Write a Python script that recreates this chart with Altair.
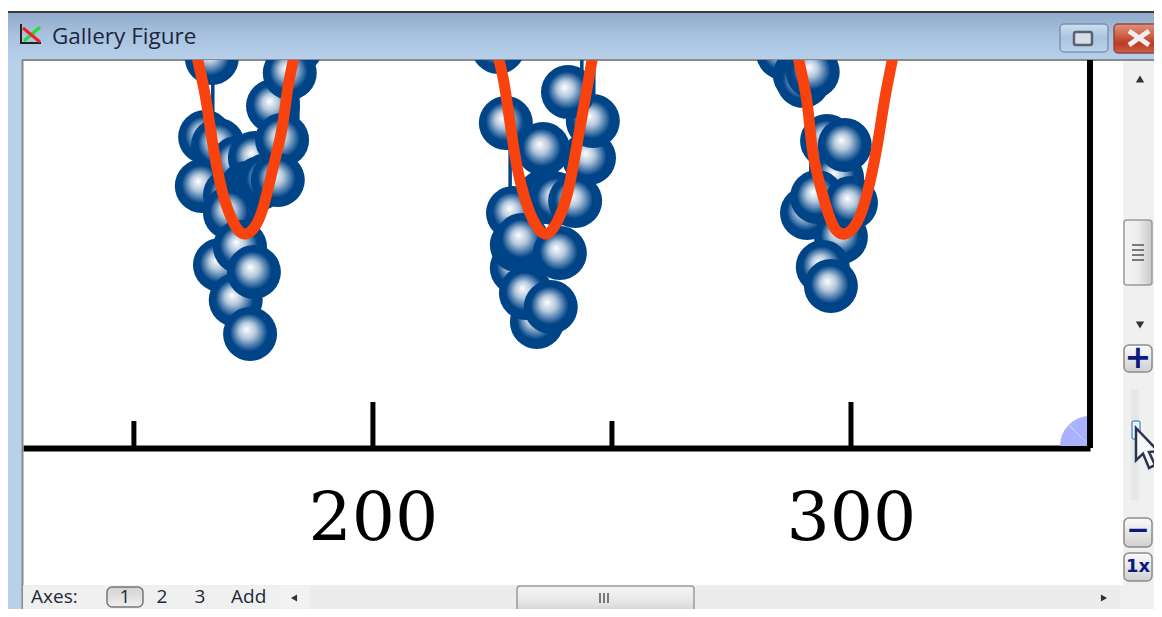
import altair as alt
import pandas as pd

# ---- data ----------------------------------------------------------------
ball_x = [166.3, 183.9, 179.1, 182.6, 164.9, 167.6, 164.2, 170.1, 171.5, 175.3, 181.0,
          173.6, 174.9, 176.4, 177.8, 180.1, 170.1, 168.0, 172.2, 171.3, 175.1, 174.3,
          226.2, 245.2, 246.0, 240.8, 227.8, 235.6, 237.0, 238.5, 242.3, 235.6, 229.3,
          230.1, 230.1, 231.2, 239.1, 234.3, 232.0, 237.2,
          285.8, 289.3, 290.0, 292.0, 295.0, 297.1, 298.7, 290.8, 292.9, 297.9, 300.0,
          294.1, 295.8]
ball_y = [390, 401, 342, 375, 311, 303, 262, 253, 285, 290, 308,
          260, 261, 265, 268, 268, 235, 183, 201, 148, 176, 114,
          401, 290, 327, 356, 325, 251, 251, 249, 247, 299, 235,
          180, 203, 208, 195, 126, 155, 141,
          395, 373, 367, 376, 307, 270, 303, 235, 251, 211, 245,
          181, 162]
stem_x = [166.5, 184.3, 228.7, 246.2, 243.7, 291.6]
stem_hi = [388, 350, 300, 388, 388, 350]
stem_lo = [328, 310, 258, 340, 375, 270]
curve_a_x = [162.6, 163.4, 164.9, 166.3, 168.0, 169.7, 171.5, 173.2, 175.1, 177.0, 179.1, 181.0, 182.2, 183.3, 183.9]
curve_a_y = [408, 387, 353, 310, 266, 238, 220, 214, 220, 240, 280, 320, 360, 387, 408]
curve_b_x = [225.5, 226.4, 227.6, 229.7, 231.4, 233.3, 236.0, 238.5, 240.6, 242.3, 243.9, 245.8, 246.4]
curve_b_y = [408, 387, 360, 293, 256, 230, 214, 226, 253, 293, 336, 387, 408]
curve_c_x = [288.3, 289.1, 290.8, 292.0, 294.1, 296.2, 298.7, 301.3, 303.3, 305.4, 307.1, 308.6, 309.2]
curve_c_y = [408, 387, 346, 296, 253, 223, 214, 226, 253, 300, 350, 387, 408]
major_ticks = [200, 300]
minor_ticks = [150, 250]
major_len = [46, 46]
minor_len = [27, 27]
spine_x = [350]
spine_top = [388]
title_text = "Gallery Figure"
status_labels = ["Axes:", "1", "2", "3", "Add"]

NAVY = "#004488"
ORANGE = "#F9430F"
X_DOMAIN = [126.8, 350]
Y_DOMAIN = [0, 388]
xs = alt.Scale(domain=X_DOMAIN, nice=False, zero=False)
ys = alt.Scale(domain=Y_DOMAIN, nice=False, zero=False)


# ---- window chrome helpers (page pixels -> view pixels) -------------------
def vx(v):
    return alt.value(v - 23)


def vy(v):
    return alt.value(v - 60)


def grad(stops, vertical=True):
    n = len(stops) - 1
    return alt.LinearGradient(
        gradient="linear",
        stops=[alt.GradientStop(color=c, offset=i / n) for i, c in enumerate(stops)],
        x1=0, y1=0, x2=0 if vertical else 1, y2=1 if vertical else 0,
    )


def box(x0, x1, y0, y1, fill, stroke=None, sw=1, r=0):
    kw = dict(fill=fill)
    if stroke:
        kw.update(stroke=stroke, strokeWidth=sw)
    if r:
        kw.update(cornerRadius=r)
    return alt.Chart().mark_rect(**kw).encode(x=vx(x0), x2=vx(x1), y=vy(y0), y2=vy(y1))


def seg(x0, y0, x1, y1, color, w):
    return alt.Chart().mark_rule(color=color, strokeWidth=w).encode(
        x=vx(x0), y=vy(y0), x2=vx(x1), y2=vy(y1))


def label(x, y, s, size=19, font="Open Sans", color="#222838", weight="normal", align="left"):
    return alt.Chart().mark_text(
        font=font, fontSize=size, color=color, fontWeight=weight, align=align, baseline="middle"
    ).encode(x=vx(x), y=vy(y), text=alt.value(s))


def glyph(x, y, shape, size, color="#333333"):
    return alt.Chart().mark_point(shape=shape, size=size, filled=True, fill=color, opacity=1, strokeWidth=0).encode(
        x=vx(x), y=vy(y))


BTN = grad(["#FBFBFB", "#E6E6E6", "#D0D0D0"])
chrome = [
    box(8, 1162, 12, 60, grad(["#8FA9CA", "#A9C3E0", "#B7CFEA"])),
    seg(8, 12, 1162, 12, "#3A3A3A", 2),
    box(8, 22, 60, 617, "#B8D0EA"),
    seg(22.5, 60, 22.5, 617, "#8A8A8A", 2),
    seg(22, 60, 1157, 60, "#8A8A8A", 2),
    box(1123, 1155, 61, 585, "#F0F0F0"),
    box(23, 1155, 585, 617, "#F0F0F0"),
    # scrollbar, vertical
    box(1124, 1152, 220, 285, grad(["#F4F4F4", "#EDEDED", "#C8C8C8"], vertical=False), "#9A9A9A", 1.5, 3),
    seg(1132, 245, 1144, 245, "#555555", 1.5),
    seg(1132, 250, 1144, 250, "#555555", 1.5),
    seg(1132, 255, 1144, 255, "#555555", 1.5),
    seg(1132, 260, 1144, 260, "#555555", 1.5),
    glyph(1140, 79, "triangle-up", 70),
    glyph(1140, 325, "triangle-down", 70),
    # zoom buttons and slider
    box(1124, 1152, 345, 372, BTN, "#8C8C8C", 1.5, 5),
    label(1138, 358, "+", 32, "DejaVu Sans", "#0A1A80", "bold", "center"),
    box(1131, 1139, 389, 500, "#E4E8E8"),
    box(1132, 1140, 421, 439, "#EEF4FB", "#5A9BD0", 1.5, 2),
    box(1124, 1152, 518, 547, BTN, "#8C8C8C", 1.5, 5),
    label(1138, 531, "\u2212", 28, "DejaVu Sans", "#0A1A80", "bold", "center"),
    box(1124, 1152, 553, 581, BTN, "#8C8C8C", 1.5, 5),
    label(1138, 567, "1x", 18, "DejaVu Sans", "#0A1A80", "bold", "center"),
    # window buttons
    box(1060, 1108, 24, 52, grad(["#CFE0F2", "#A9C3E0", "#BBD2EA"]), "#7E93AE", 1.5, 4),
    box(1074, 1092, 32, 45, "#D8DEE6", "#59616E", 2.5, 2),
    box(1114, 1164, 24, 53, grad(["#E0907E", "#D06A50", "#BD3A22", "#CC6046"]), "#8E4A48", 1.5, 4),
    seg(1129, 31, 1149, 45, "#F0EEEE", 5),
    seg(1149, 31, 1129, 45, "#F0EEEE", 5),
    # title and icon
    seg(21, 24, 21, 44, "#222222", 2),
    seg(20, 43, 41, 43, "#222222", 2),
    seg(24, 41, 40, 27, "#22DD33", 3),
    seg(23, 28, 40, 42, "#EE2222", 3),
    label(52, 37, title_text, 22.5, "Open Sans", "#20263C"),
    # status bar
    box(107, 143, 587, 607, grad(["#D2D2D2", "#EFEFEF"]), "#777777", 1.5, 5),
    label(31, 597, status_labels[0]),
    label(125, 597, status_labels[1], align="center"),
    label(162, 597, status_labels[2], align="center"),
    label(200, 597, status_labels[3], align="center"),
    label(231, 597, status_labels[4]),
    box(279, 1120, 586, 616, "#ECECEC"),
    box(279, 310, 586, 616, "#F2F2F2"),
    glyph(294, 598, "triangle-left", 50),
    glyph(1104, 598, "triangle-right", 50),
    box(517, 694, 586, 615, grad(["#F6F6F6", "#E8E8E8", "#CCCCCC"]), "#9A9A9A", 1.5, 3),
    seg(600, 593, 600, 603, "#555555", 1.5),
    seg(604, 593, 604, 603, "#555555", 1.5),
    seg(608, 593, 608, 603, "#555555", 1.5),
]

# ---- plot ------------------------------------------------------------------
balls = pd.DataFrame({"x": ball_x, "y": ball_y, "o": range(len(ball_x))})
stems = pd.DataFrame({"x": stem_x, "y": stem_hi, "y2": stem_lo})
curves = pd.concat([
    pd.DataFrame({"x": curve_a_x, "y": curve_a_y, "s": "a"}),
    pd.DataFrame({"x": curve_b_x, "y": curve_b_y, "s": "b"}),
    pd.DataFrame({"x": curve_c_x, "y": curve_c_y, "s": "c"}),
])
ticks = pd.DataFrame({"x": major_ticks + minor_ticks, "y": major_len + minor_len})
spine = pd.DataFrame({"x": spine_x, "y": spine_top})
corner = pd.DataFrame({"x": spine_x, "y": [2]})

axis_layer = alt.Chart(ticks).mark_rule(color="black", strokeWidth=5).encode(
    x=alt.X("x:Q", scale=xs, axis=alt.Axis(
        values=major_ticks, format="d", title=None, grid=False, ticks=False,
        domainColor="black", domainWidth=6, labelColor="black",
        labelFont="DejaVu Serif", labelFontSize=68, labelPadding=37,
        labelOverlap=False, labelFlush=False)),
    y=alt.Y("y:Q", scale=ys, axis=None),
    y2=alt.Y2(datum=0),
)
stem_layer = alt.Chart(stems).mark_rule(color=NAVY, strokeWidth=3.5, clip=True).encode(
    x=alt.X("x:Q", scale=xs), y=alt.Y("y:Q", scale=ys), y2="y2:Q")
ball_fill = alt.RadialGradient(
    gradient="radial", x1=0.43, y1=0.41, r1=0, x2=0.5, y2=0.5, r2=0.5,
    stops=[alt.GradientStop(color="#FFFFFF", offset=0),
           alt.GradientStop(color="#B4C8DC", offset=0.3),
           alt.GradientStop(color=NAVY, offset=0.7),
           alt.GradientStop(color=NAVY, offset=1)])
ball_layer = alt.Chart(balls).mark_circle(size=2916, opacity=1, fill=ball_fill, clip=True).encode(
    x=alt.X("x:Q", scale=xs), y=alt.Y("y:Q", scale=ys), order="o:Q")
curve_layer = alt.Chart(curves).mark_line(
    color=ORANGE, strokeWidth=11, interpolate="natural", clip=True, strokeCap="round"
).encode(x=alt.X("x:Q", scale=xs), y=alt.Y("y:Q", scale=ys), detail="s:N", order=alt.Order("x:Q"))
arc_a = alt.Chart(corner).mark_arc(color="#AAB2FF", radius=30, theta=4.712, theta2=5.49).encode(
    x=alt.X("x:Q", scale=xs), y=alt.Y("y:Q", scale=ys))
arc_b = alt.Chart(corner).mark_arc(color="#AAB2FF", radius=30, theta=5.50, theta2=6.283).encode(
    x=alt.X("x:Q", scale=xs), y=alt.Y("y:Q", scale=ys))
spine_layer = alt.Chart(spine).mark_rule(color="black", strokeWidth=6).encode(
    x=alt.X("x:Q", scale=xs), y=alt.Y("y:Q", scale=ys), y2=alt.Y2(datum=0))

cursor = alt.Chart().mark_point(
    shape="M-0.45,-1 L-0.45,0.62 L-0.1,0.28 L0.2,1 L0.5,0.85 L0.2,0.2 L0.65,0.15 Z",
    size=1600, filled=True, fill="#F6F8FA", stroke="#2C3550", strokeWidth=2.5, opacity=1,
).encode(x=vx(1145), y=vy(448))

chart = alt.layer(
    *chrome, axis_layer, stem_layer, ball_layer, curve_layer, arc_a, arc_b, spine_layer, cursor
).properties(
    width=1067, height=388,
    padding={"left": 15, "top": 52, "right": 64, "bottom": 161},
    autosize=alt.AutoSizeParams(type="none"),
    background="white",
).configure_view(stroke=None)

chart.save("out.html", embed_options={"renderer": "svg", "actions": False})
